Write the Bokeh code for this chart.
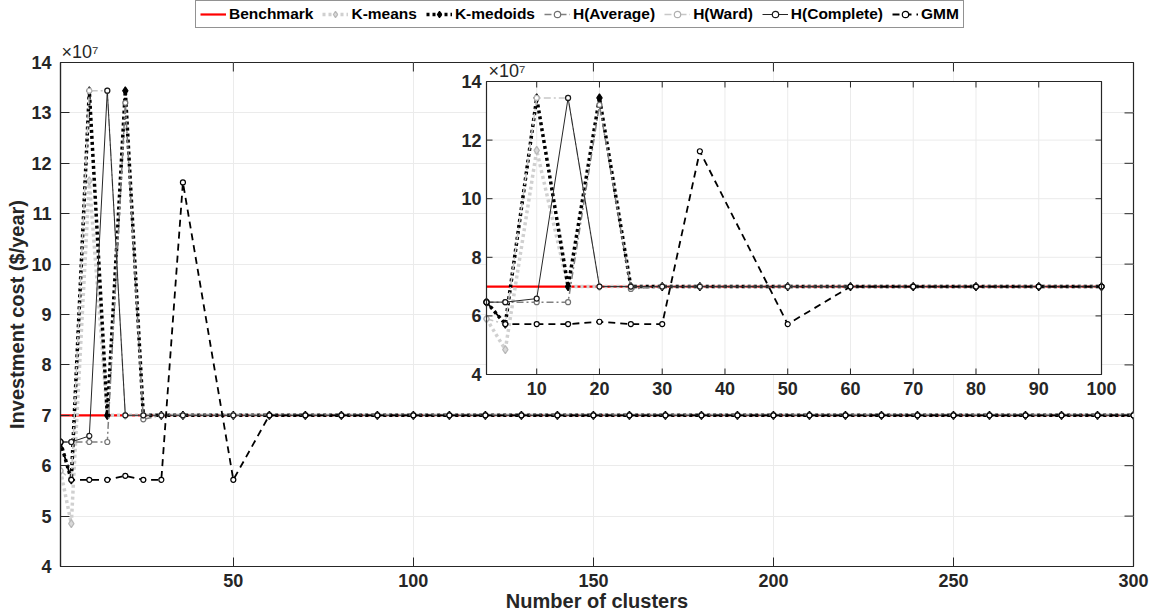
from bokeh.plotting import figure
from bokeh.layouts import column
from bokeh.models import Range1d, FixedTicker, Legend, LegendItem, Title
from bokeh.embed import file_html
from bokeh.resources import INLINE
from bokeh.core.properties import value

# ---------------- data (cost in units of 1e7 $/year) ----------------
clusters = [2, 5, 10, 15, 20, 25, 30, 36, 50, 60, 70, 80, 90, 100,
            110, 120, 130, 140, 150, 160, 170, 180, 190, 200,
            210, 220, 230, 240, 250, 260, 270, 280, 290, 300]

benchmark = [7.0, 7.0, 7.0, 7.0, 7.0, 7.0, 7.0, 7.0, 7.0, 7.0, 7.0, 7.0, 7.0, 7.0,
             7.0, 7.0, 7.0, 7.0, 7.0, 7.0, 7.0, 7.0, 7.0, 7.0,
             7.0, 7.0, 7.0, 7.0, 7.0, 7.0, 7.0, 7.0, 7.0, 7.0]
kmeans = [5.90, 4.85, 11.65, 7.0, 7.0, 7.0, 7.0, 7.0, 7.0, 7.0, 7.0, 7.0, 7.0, 7.0,
          7.0, 7.0, 7.0, 7.0, 7.0, 7.0, 7.0, 7.0, 7.0, 7.0,
          7.0, 7.0, 7.0, 7.0, 7.0, 7.0, 7.0, 7.0, 7.0, 7.0]
kmedoids = [6.47, 5.72, 13.44, 7.0, 13.44, 7.0, 7.0, 7.0, 7.0, 7.0, 7.0, 7.0, 7.0, 7.0,
            7.0, 7.0, 7.0, 7.0, 7.0, 7.0, 7.0, 7.0, 7.0, 7.0,
            7.0, 7.0, 7.0, 7.0, 7.0, 7.0, 7.0, 7.0, 7.0, 7.0]
h_average = [6.47, 6.47, 6.47, 6.47, 13.20, 6.92, 7.0, 7.0, 7.0, 7.0, 7.0, 7.0, 7.0, 7.0,
             7.0, 7.0, 7.0, 7.0, 7.0, 7.0, 7.0, 7.0, 7.0, 7.0,
             7.0, 7.0, 7.0, 7.0, 7.0, 7.0, 7.0, 7.0, 7.0, 7.0]
h_ward = [5.90, 5.72, 13.44, 13.44, 7.0, 7.0, 7.0, 7.0, 7.0, 7.0, 7.0, 7.0, 7.0, 7.0,
          7.0, 7.0, 7.0, 7.0, 7.0, 7.0, 7.0, 7.0, 7.0, 7.0,
          7.0, 7.0, 7.0, 7.0, 7.0, 7.0, 7.0, 7.0, 7.0, 7.0]
h_complete = [6.47, 6.47, 6.59, 13.44, 7.0, 7.0, 7.0, 7.0, 7.0, 7.0, 7.0, 7.0, 7.0, 7.0,
              7.0, 7.0, 7.0, 7.0, 7.0, 7.0, 7.0, 7.0, 7.0, 7.0,
              7.0, 7.0, 7.0, 7.0, 7.0, 7.0, 7.0, 7.0, 7.0, 7.0]
gmm = [6.47, 5.72, 5.72, 5.72, 5.80, 5.72, 5.72, 11.62, 5.72, 7.0, 7.0, 7.0, 7.0, 7.0,
       7.0, 7.0, 7.0, 7.0, 7.0, 7.0, 7.0, 7.0, 7.0, 7.0,
       7.0, 7.0, 7.0, 7.0, 7.0, 7.0, 7.0, 7.0, 7.0, 7.0]

x_ticks = [50, 100, 150, 200, 250, 300]
y_ticks = [4, 5, 6, 7, 8, 9, 10, 11, 12, 13, 14]
y_tick_labels = ["4", "5", "6", "7", "8", "9", "10", "11", "12", "13", "14"]
inset_x_ticks = [10, 20, 30, 40, 50, 60, 70, 80, 90, 100]
inset_x_labels = ["10", "20", "30", "40", "50", "60", "70", "80", "90", "100"]
inset_y_ticks = [4, 6, 8, 10, 12, 14]
inset_y_labels = ["4", "6", "8", "10", "12", "14"]
inset_xlim = (2, 100)
inset_ylim = (4, 14)
main_xlim = (2, 300)
main_ylim = (4, 14)

series = [
    ("Benchmark", benchmark),
    ("K-means", kmeans),
    ("K-medoids", kmedoids),
    ("H(Average)", h_average),
    ("H(Ward)", h_ward),
    ("H(Complete)", h_complete),
    ("GMM", gmm),
]

# ---------------- styles ----------------
FONT = "Liberation Sans"
AX = "#262626"
styles = {
    "Benchmark": dict(color="#ff0000", width=2.2, dash="solid", marker=None),
    "K-means": dict(color="#d0d0d0", width=3.5, dash="3 3", marker="diamond",
                    msize=8, mfill="#d9d9d9", mline="#b8b8b8"),
    "K-medoids": dict(color="#000000", width=3.5, dash="3 3", marker="diamond",
                      msize=8, mfill="#000000", mline="#000000"),
    "H(Average)": dict(color="#808080", width=1.5, dash="7 3 2 3", marker="circle",
                       msize=5, mfill="white", mline="#707070"),
    "H(Ward)": dict(color="#c8c8c8", width=1.5, dash="7 3 2 3", marker="circle",
                    msize=5, mfill="white", mline="#b0b0b0"),
    "H(Complete)": dict(color="#262626", width=1.0, dash="solid", marker="circle",
                        msize=5, mfill="white", mline="#1a1a1a"),
    "GMM": dict(color="#000000", width=1.8, dash="7 5", marker="circle",
                msize=5, mfill="white", mline="#000000"),
}

# ---------------- layout constants (pixels) ----------------
W = 1152
LH = 31                      # height of the legend strip
H = 584
BL, BR, BT, BB = 60, 19, 31, 49
FW, FH = W - BL - BR, H - BT - BB
# inset box in frame pixels (from frame left / frame top)
IL, IR, IT, IB = 426, 1041, 19, 312
TICK = 9

p = figure(width=W, height=H, x_range=Range1d(*main_xlim), y_range=Range1d(*main_ylim),
           output_backend="svg", toolbar_location=None,
           min_border_left=BL, min_border_right=BR, min_border_top=BT, min_border_bottom=BB)
p.title = None
p.background_fill_color = "white"
p.outline_line_color = AX
p.outline_line_width = 1.2

kx = (inset_xlim[1] - inset_xlim[0]) / (IR - IL)
ky = (inset_ylim[1] - inset_ylim[0]) / (IB - IT)
p.extra_x_ranges = {"ix": Range1d(inset_xlim[0] - IL * kx, inset_xlim[1] + (FW - IR) * kx)}
p.extra_y_ranges = {"iy": Range1d(inset_ylim[0] - (FH - IB) * ky, inset_ylim[1] + IT * ky)}


def style_axis(ax, ticks):
    ax.ticker = FixedTicker(ticks=ticks)
    ax.major_tick_in = TICK
    ax.major_tick_out = 0
    ax.minor_tick_line_color = None
    ax.axis_line_color = AX
    ax.axis_line_width = 1.2
    ax.major_tick_line_color = AX
    ax.major_label_text_font = FONT
    ax.major_label_text_font_style = "bold"
    ax.major_label_text_color = AX
    ax.major_label_text_font_size = "18px"
    ax.axis_label_text_font = FONT
    ax.axis_label_text_font_style = "bold"
    ax.axis_label_text_font_size = "20px"
    ax.axis_label_text_color = AX


style_axis(p.xaxis[0], x_ticks)
p.xaxis[0].axis_label = "Number of clusters"
p.xaxis[0].axis_label_standoff = 0
p.xaxis[0].major_label_standoff = 7
style_axis(p.yaxis[0], y_ticks)
p.yaxis[0].axis_label = "Investment cost ($/year)"
p.yaxis[0].axis_label_standoff = 0
p.yaxis[0].major_label_standoff = 9
p.yaxis[0].major_label_overrides = {t: s for t, s in zip(y_ticks, y_tick_labels)}

p.xgrid.ticker = FixedTicker(ticks=x_ticks)
p.ygrid.ticker = FixedTicker(ticks=y_ticks)
p.grid.grid_line_color = "#ebebeb"
p.grid.grid_line_width = 1

# inward ticks on the top and right edges of the main box
mkx = (main_xlim[1] - main_xlim[0]) / FW
mky = (main_ylim[1] - main_ylim[0]) / FH
p.segment(x0=x_ticks, y0=[main_ylim[1]] * len(x_ticks), x1=x_ticks,
          y1=[main_ylim[1] - TICK * mky] * len(x_ticks), line_color=AX, line_width=1)
p.segment(x0=[main_xlim[1]] * len(y_ticks), y0=y_ticks, x1=[main_xlim[1] - TICK * mkx] * len(y_ticks),
          y1=y_ticks, line_color=AX, line_width=1)


def draw(fig, xs, ys, name, **rk):
    st = styles[name]
    rl = fig.line(xs, ys, line_color=st["color"], line_width=st["width"],
                  line_dash=st["dash"], **rk)
    rs = [rl]
    if st["marker"]:
        rm = fig.scatter(xs, ys, marker=st["marker"], size=st["msize"],
                         fill_color=st["mfill"], line_color=st["mline"], line_width=1.2, **rk)
        rs.append(rm)
    return rs


for name, ys in series:
    draw(p, clusters, ys, name)

# ---------------- inset ----------------
ik = dict(x_range_name="ix", y_range_name="iy")
p.quad(left=[inset_xlim[0]], right=[inset_xlim[1]], bottom=[inset_ylim[0]], top=[inset_ylim[1]],
       fill_color="white", line_color=None, **ik)
nx, ny = len(inset_x_ticks), len(inset_y_ticks)
p.segment(x0=inset_x_ticks, y0=[inset_ylim[0]] * nx, x1=inset_x_ticks, y1=[inset_ylim[1]] * nx,
          line_color="#ebebeb", line_width=1, **ik)
p.segment(x0=[inset_xlim[0]] * ny, y0=inset_y_ticks, x1=[inset_xlim[1]] * ny, y1=inset_y_ticks,
          line_color="#ebebeb", line_width=1, **ik)

sel = [i for i, c in enumerate(clusters) if inset_xlim[0] <= c <= inset_xlim[1]]
ix_vals = [clusters[i] for i in sel]
for name, ys in series:
    draw(p, ix_vals, [ys[i] for i in sel], name, **ik)

p.quad(left=[inset_xlim[0]], right=[inset_xlim[1]], bottom=[inset_ylim[0]], top=[inset_ylim[1]],
       fill_color=None, line_color=AX, line_width=1.2, **ik)
tlx, tly = 6 * kx, 6 * ky
p.segment(x0=inset_x_ticks, y0=[inset_ylim[0]] * nx, x1=inset_x_ticks,
          y1=[inset_ylim[0] + tly] * nx, line_color=AX, **ik)
p.segment(x0=inset_x_ticks, y0=[inset_ylim[1]] * nx, x1=inset_x_ticks,
          y1=[inset_ylim[1] - tly] * nx, line_color=AX, **ik)
p.segment(x0=[inset_xlim[0]] * ny, y0=inset_y_ticks, x1=[inset_xlim[0] + tlx] * ny,
          y1=inset_y_ticks, line_color=AX, **ik)
p.segment(x0=[inset_xlim[1]] * ny, y0=inset_y_ticks, x1=[inset_xlim[1] - tlx] * ny,
          y1=inset_y_ticks, line_color=AX, **ik)

p.text(x=[inset_xlim[0]] * ny, y=inset_y_ticks, text=inset_y_labels, x_offset=-5,
       text_align="right", text_baseline="middle", text_font=value(FONT),
       text_font_style="bold", text_font_size="18px", text_color=AX, **ik)
p.text(x=inset_x_ticks, y=[inset_ylim[0]] * nx, text=inset_x_labels, y_offset=7,
       text_align="center", text_baseline="top", text_font=value(FONT),
       text_font_style="bold", text_font_size="18px", text_color=AX, **ik)
p.text(x=[inset_xlim[0]], y=[inset_ylim[1]], text=["\u00d710\u2077"], x_offset=2, y_offset=-1,
       text_align="left", text_baseline="bottom", text_font=value(FONT),
       text_font_size="18px", text_color=AX, **ik)

# multiplier above the main frame
p.add_layout(Title(text="\u00d710\u2077", align="left", offset=1, standoff=2,
                   text_font=FONT, text_font_size="18px", text_font_style="normal",
                   text_color=AX), "above")

# ---------------- legend strip ----------------
lg = figure(width=W, height=LH, x_range=Range1d(0, 1), y_range=Range1d(0, 1),
            x_axis_type=None, y_axis_type=None, output_backend="svg",
            toolbar_location=None, min_border=0)
lg.title = None
lg.outline_line_color = None
lg.grid.visible = False
items = []
for name, _ in series:
    # sample glyphs only: their points lie outside the strip's visible range
    items.append(LegendItem(label=name, renderers=draw(lg, [-5, -4], [-5, -4], name)))
legend = Legend(items=items, orientation="horizontal", location=(135, 3),
                label_text_font=FONT, label_text_font_style="bold", label_text_font_size="15.5px",
                label_text_color="#000000", border_line_color=AX, border_line_width=1,
                background_fill_color="white", background_fill_alpha=1.0,
                padding=4, margin=0, spacing=9, glyph_width=26, glyph_height=16,
                label_standoff=3, label_height=16)
lg.add_layout(legend)

layout = column(lg, p, spacing=0)
open("out.html", "w").write(file_html(layout, INLINE))
